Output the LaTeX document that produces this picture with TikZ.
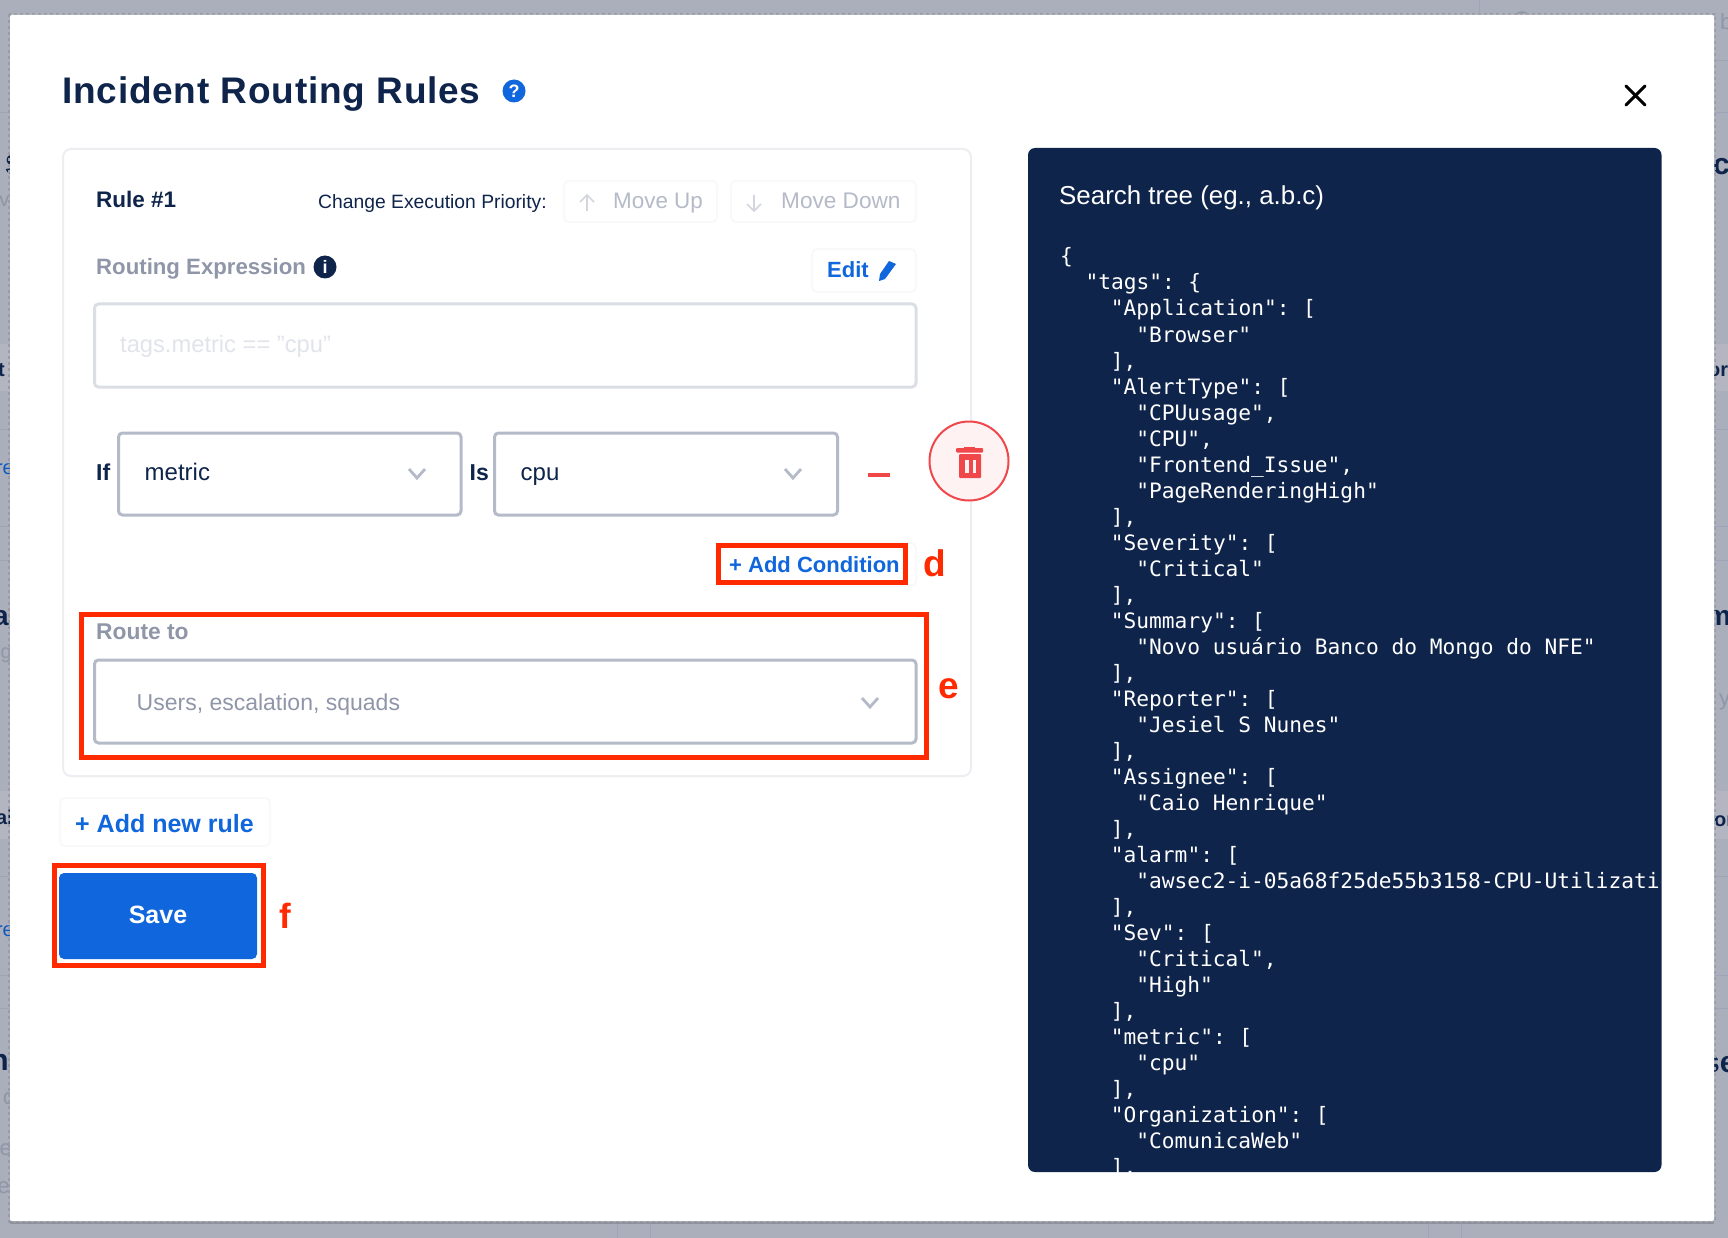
\documentclass[tikz,border=0pt]{standalone}
\usepackage{fontspec}
\setmainfont{Liberation Sans}
\newfontfamily\codefont{DejaVu Sans Mono}
\definecolor{backdrop}{HTML}{ABAFBB}
\definecolor{bandgray}{HTML}{B3B6C1}
\definecolor{rulegray}{HTML}{9FA4B6}
\definecolor{edgegray}{HTML}{8E919C}
\definecolor{navy}{HTML}{0F244B}
\definecolor{linkblue}{HTML}{1066DC}
\definecolor{markred}{HTML}{FF2A00}
\definecolor{trashred}{HTML}{F0474B}
\definecolor{trashfill}{HTML}{FEF2F3}
\definecolor{panelline}{HTML}{ECEEF2}
\definecolor{faintline}{HTML}{F8F9FB}
\definecolor{inputline}{HTML}{B5BAC8}
\definecolor{labelgray}{HTML}{8F96A8}
\tikzset{
  lbl/.style 2 args={inner sep=0pt, anchor=base west, text=#2, font=\fontsize{#1}{#1}\selectfont},
  bold/.style 2 args={inner sep=0pt, anchor=base west, text=#2, font=\fontsize{#1}{#1}\selectfont\bfseries},
  leftcut/.style={anchor=base east},
  faintbtn/.style={draw=faintline, line width=2pt, fill=white, rounded corners=5pt},
  inputbox/.style={draw=inputline, line width=3pt, fill=white, rounded corners=4pt},
  redbox/.style={draw=markred, line width=5pt},
  chevline/.style={draw=inputline, line width=2.8pt},
  roundicon/.style={circle, inner sep=0pt, minimum size=23pt, text=white, font=\fontsize{18}{18}\selectfont\bfseries}
}
\newcommand{\chev}[2]{\draw[chevline] (#1-8,#2-5) -- (#1,#2+4) -- (#1+8,#2-5);}
\newcommand{\colgap}{\kern-3.5pt}
\begin{document}
\begin{tikzpicture}[x=1pt, y=-1pt]
  \useasboundingbox (0,0) rectangle (1728,1238);
  % what lies behind the dialog
  \fill[backdrop] (0,0) rectangle (1728,1238);
  \fill[bandgray] (0,344) rectangle (1728,391);
  \fill[bandgray] (0,791) rectangle (1728,839);
  \foreach \ypos in {113,429,526,560,876,975,1008}
    \draw[rulegray, line width=1pt] (0,\ypos) -- (1728,\ypos);
  \draw[rulegray, line width=1pt] (1690,61) -- (1728,61);
  \foreach \xpos in {617,650.5,1428.6,1461}
    \draw[rulegray, line width=1pt] (\xpos,1221) -- (\xpos,1238);
  \draw[rulegray, line width=1pt] (1479,0) -- (1479,15);
  \draw[labelgray, line width=1.5pt] (1522,20) circle (8);
  \node[bold={28}{navy}] (cutS) at (5,175) {S};
  \node[lbl={20}{labelgray}, leftcut] (cutVi) at (14,207) {vi};
  \node[bold={20}{navy}, leftcut] (cutT) at (5,376) {t};
  \node[lbl={20}{linkblue!80!navy}, leftcut] (cutRe) at (14,474) {re};
  \node[bold={28}{navy}, leftcut] (cutA) at (9,625) {a};
  \node[lbl={20}{labelgray}, leftcut] (cutG) at (12,658) {g};
  \node[bold={20}{navy}, leftcut] (cutAi) at (13,824) {ai};
  \node[lbl={20}{linkblue!80!navy}, leftcut] (cutRf) at (14,936) {re};
  \node[bold={30}{navy}, leftcut] (cutN) at (9,1070) {n};
  \node[lbl={22}{labelgray}, leftcut] (cutC) at (14,1104) {c};
  \node[lbl={22}{labelgray}, leftcut] (cutNe) at (12,1155) {ne};
  \node[lbl={22}{labelgray}, leftcut] (cutE) at (10,1193) {e};
  \node[lbl={22}{labelgray}] (cutB) at (1720,30) {b};
  \node[bold={30}{navy}] (cutCr) at (1713,175) {c};
  \node[bold={20}{navy}] (cutOr) at (1708,376) {or};
  \node[bold={28}{navy}] (cutM) at (1706,625) {m};
  \node[lbl={22}{labelgray}] (cutY) at (1719,705) {y};
  \node[bold={20}{navy}] (cutOs) at (1714,826) {or};
  \node[bold={30}{navy}] (cutSe) at (1703,1072) {se};
  % dialog
  \fill[edgegray] (10,1221) rectangle (1714,1223.5);
  \draw[edgegray!65!backdrop, dashed, line width=2pt] (9,14) rectangle (1715,1222);
  \fill[white, rounded corners=2pt] (10,15) rectangle (1714,1221);
  \node[bold={37}{navy}] (title) at (62,104) {\addfontfeature{LetterSpace=2.2}Incident Routing Rules};
  \node[roundicon, fill=linkblue] (helpicon) at (514,91) {?};
  \draw[black, line width=3pt, line cap=round] (1626,86) -- (1645,105);
  \draw[black, line width=3pt, line cap=round] (1645,86) -- (1626,105);
  % rule panel
  \draw[panelline, line width=2pt, rounded corners=8pt] (63,149) rectangle (971,776);
  \node[bold={22.5}{navy}] (ruletitle) at (96,208) {Rule \#1};
  \node[lbl={19.3}{navy}] (prioritytext) at (318,208.5) {Change Execution Priority:};
  \draw[faintbtn] (564,181) rectangle (717,222);
  \draw[faintbtn] (731,181) rectangle (916,222);
  \draw[inputline!60, line width=1.6pt] (587,211) -- (587,195) (580,202) -- (587,195) -- (594,202);
  \draw[inputline!60, line width=1.6pt] (754,195) -- (754,211) (747,204) -- (754,211) -- (761,204);
  \node[lbl={22.4}{inputline}] (moveup) at (613,208.5) {Move Up};
  \node[lbl={22.6}{inputline}] (movedown) at (781,208.5) {Move Down};
  \node[bold={22.2}{labelgray}] (exprlabel) at (96,274.5) {Routing Expression};
  \node[roundicon, fill=navy] (infoicon) at (325,267) {i};
  \draw[faintbtn] (812,249) rectangle (916,292);
  \node[bold={22}{linkblue}] (edittext) at (827,278) {Edit};
  \fill[linkblue] (889,261) -- (896,264) -- (885,279) -- (879,281) -- (880,274) -- cycle;
  \draw[draw=panelline!70!inputline, line width=3pt, rounded corners=4pt] (94.5,304) rectangle (916,387);
  \node[lbl={23.7}{panelline!80!inputline}] (exprtext) at (120,352.5) {tags.metric == "cpu"};
  % condition row
  \node[bold={23}{navy}] (iflabel) at (96,480) {If};
  \draw[inputbox] (118.5,433) rectangle (461,515);
  \node[lbl={24}{navy}] (metrictext) at (144.5,480) {metric};
  \chev{417}{474}
  \node[bold={23}{navy}] (islabel) at (469.5,480) {Is};
  \draw[inputbox] (494.5,433) rectangle (837.5,515);
  \node[lbl={24}{navy}] (cputext) at (520.5,480) {cpu};
  \chev{793}{474}
  \draw[trashred, line width=3.5pt] (868,475) -- (890,475);
  \draw[trashred, fill=trashfill, line width=2pt] (969,461) circle (39.5);
  \fill[trashred, rounded corners=1pt] (956,448) rectangle (983,452.5);
  \fill[trashred] (964,446.5) rectangle (975,449);
  \fill[trashred, rounded corners=1pt] (959,454) rectangle (981,478);
  \fill[trashfill] (965,460) rectangle (968.5,473);
  \fill[trashfill] (972.5,460) rectangle (976,473);
  % add condition
  \draw[faintbtn] (716,543) rectangle (916,586);
  \draw[redbox] (718.5,545.5) rectangle (905.5,582.5);
  \node[bold={22}{linkblue}] (addcond) at (729,572) {+ Add Condition};
  \node[bold={37}{markred}] (markd) at (923.5,576.5) {d};
  % route to
  \draw[redbox] (81.5,614.5) rectangle (926.5,757.5);
  \node[bold={22.8}{labelgray}] (routelabel) at (96,639.5) {Route to};
  \draw[inputbox] (94.5,660) rectangle (916,743);
  \node[lbl={23}{labelgray}] (routetext) at (136.5,710) {Users, escalation, squads};
  \chev{870}{703}
  \node[bold={37}{markred}] (marke) at (938.5,698.5) {e};
  % buttons
  \draw[faintbtn] (60,798) rectangle (270,846);
  \node[bold={25}{linkblue}] (addrule) at (75,832) {+ Add new rule};
  \draw[redbox] (54.5,865.5) rectangle (263.5,965.5);
  \fill[linkblue, rounded corners=5pt] (59,873) rectangle (257,959);
  \node[bold={25}{white}, anchor=base] (savetext) at (158,923.5) {Save};
  \node[bold={35}{markred}] (markf) at (279,928) {f};
  % search tree
  \fill[navy, rounded corners=7pt] (1028,148) rectangle (1661.5,1172);
  \node[lbl={25.9}{white}] (treetitle) at (1059,205) {Search tree (eg., a.b.c)};
  \begin{scope}
    \clip (1028,148) rectangle (1660,1172);
    \foreach \idx/\ind/\txt in {
      0/0/{\{}, 1/2/{"tags":\colgap{} \{}, 2/4/{"Application":\colgap{} [}, 3/6/{"Browser"}, 4/4/{],},
      5/4/{"AlertType":\colgap{} [}, 6/6/{"CPUusage",}, 7/6/{"CPU",}, 8/6/{"Frontend\_Issue",},
      9/6/{"PageRenderingHigh"}, 10/4/{],}, 11/4/{"Severity":\colgap{} [}, 12/6/{"Critical"},
      13/4/{],}, 14/4/{"Summary":\colgap{} [}, 15/6/{"Novo usuário Banco do Mongo do NFE"},
      16/4/{],}, 17/4/{"Reporter":\colgap{} [}, 18/6/{"Jesiel S Nunes"}, 19/4/{],},
      20/4/{"Assignee":\colgap{} [}, 21/6/{"Caio Henrique"}, 22/4/{],}, 23/4/{"alarm":\colgap{} [},
      24/6/{"awsec2-i-05a68f25de55b3158-CPU-Utilization"}, 25/4/{],}, 26/4/{"Sev":\colgap{} [},
      27/6/{"Critical",}, 28/6/{"High"}, 29/4/{],}, 30/4/{"metric":\colgap{} [}, 31/6/{"cpu"},
      32/4/{],}, 33/4/{"Organization":\colgap{} [}, 34/6/{"ComunicaWeb"}, 35/4/{],}}
      \node[inner sep=0pt, anchor=base west, text=white, font=\codefont\fontsize{21.2}{21.2}\selectfont]
        (code\idx) at ({1060+\ind*12.68},{264+26*\idx}) {\txt};
  \end{scope}
\end{tikzpicture}
\end{document}
